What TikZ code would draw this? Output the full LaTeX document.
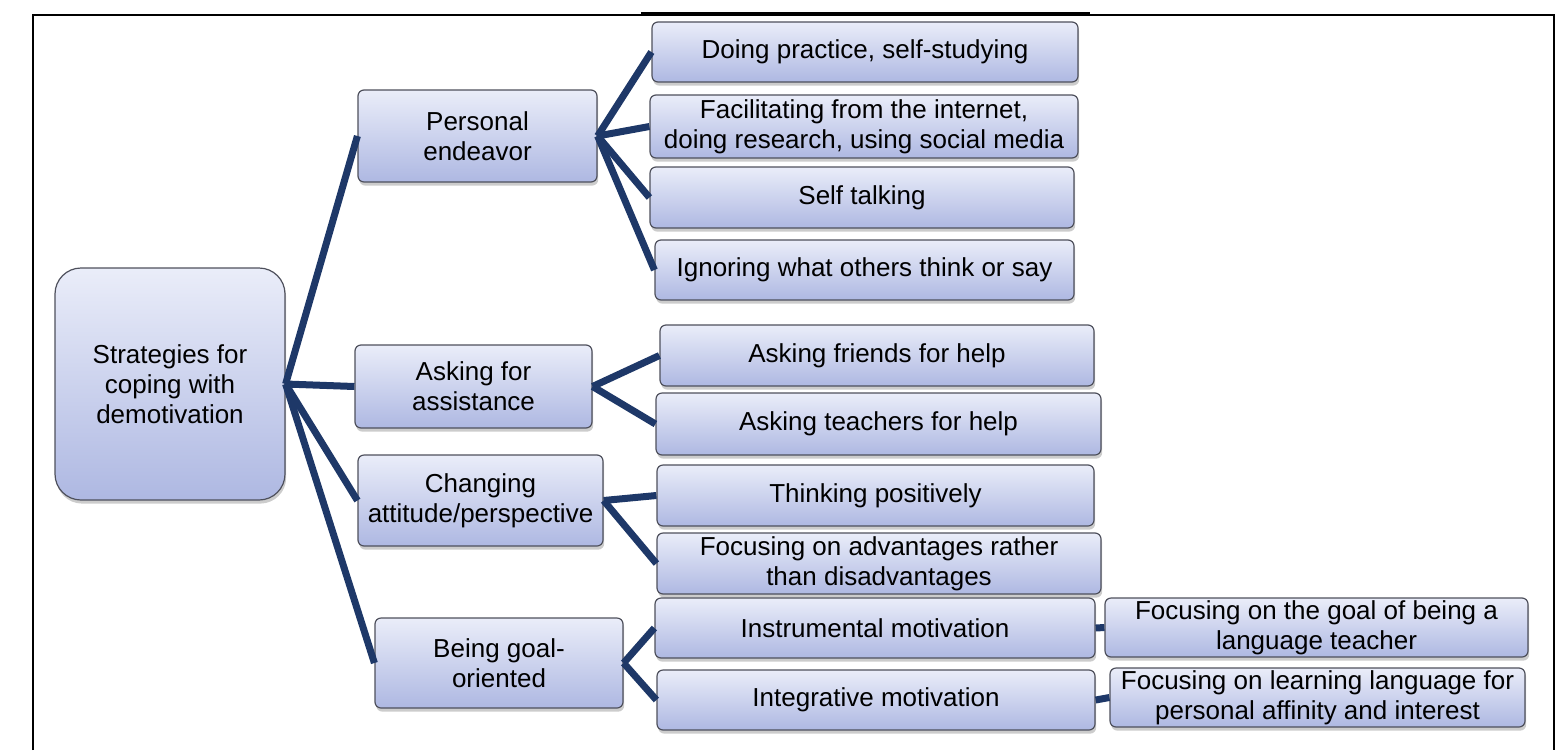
\documentclass[tikz,border=0pt]{standalone}
\usepackage{fontspec}
\setmainfont{Liberation Sans}
\usetikzlibrary{shadows}

\definecolor{linkblue}{RGB}{30,56,104}
\definecolor{boxtop}{RGB}{234,237,249}
\definecolor{boxbot}{RGB}{174,184,226}
\definecolor{boxedge}{RGB}{78,80,92}

\begin{document}
\begin{tikzpicture}[x=0.5pt, y=-0.5pt,
  box/.style={draw=boxedge, line width=0.6pt, rounded corners=3pt,
    top color=boxtop, bottom color=boxbot, align=center, inner sep=1pt,
    font=\fontsize{13}{15}\selectfont,
    drop shadow={shadow xshift=0.6pt, shadow yshift=-1.8pt, opacity=0.4}},
  link/.style={draw=linkblue, line width=3.5pt}]

\useasboundingbox (0,0) rectangle (1566,750);
\draw[line width=0.8pt] (33,750) -- (33,15) -- (1554,15) -- (1554,750);
\draw[line width=1.6pt] (641,14) -- (1090,14);

% -------- root and first level -----------
\node[box, rounded corners=13pt, minimum width=115pt, minimum height=116pt] (root) at (170,384) {Strategies for\\coping with\\demotivation};
\node[box, minimum width=119.5pt, minimum height=46pt]   (pers) at (477.5,136)  {Personal\\endeavor};
\node[box, minimum width=118.5pt, minimum height=41.5pt] (ask)  at (473.5,386.5) {Asking for\\assistance};
\node[box, minimum width=122.5pt, minimum height=45.5pt] (chg)  at (480.5,500.5) {Changing\\attitude/perspective};
\node[box, minimum width=124pt, minimum height=45pt]     (goal) at (499,663)    {Being goal-\\oriented};

% -------- second level -----------
\node[box, minimum width=213pt, minimum height=30pt]   (pers1) at (865,52)     {Doing practice, self-studying};
\node[box, minimum width=214pt, minimum height=31.5pt] (pers2) at (864,126.5)  {Facilitating from the internet,\\doing research, using social media};
\node[box, minimum width=212pt, minimum height=30.5pt] (pers3) at (862,197.5)  {Self talking};
\node[box, minimum width=209.5pt, minimum height=30pt] (pers4) at (864.5,270)  {Ignoring what others think or say};

\node[box, minimum width=217pt, minimum height=30.5pt] (ask1) at (877,355.5) {Asking friends for help};
\node[box, minimum width=222.5pt, minimum height=31pt] (ask2) at (878.5,424) {Asking teachers for help};

\node[box, minimum width=218.5pt, minimum height=30.5pt] (chg1) at (875.5,495.5) {Thinking positively};
\node[box, minimum width=222pt, minimum height=30.5pt]   (chg2) at (879,563.5)   {Focusing on advantages rather\\than disadvantages};

\node[box, minimum width=220pt, minimum height=30pt] (goal1) at (875,628) {Instrumental motivation};
\node[box, minimum width=219pt, minimum height=30pt] (goal2) at (876,700) {Integrative motivation};

% -------- third level -----------
\node[box, minimum width=211.5pt, minimum height=29.5pt] (inst) at (1316.5,627.5) {Focusing on the goal of being a\\language teacher};
\node[box, minimum width=207.5pt, minimum height=29.5pt] (intg) at (1317.5,697.5) {Focusing on learning language for\\personal affinity and interest};

% -------- connectors -----------
\foreach \c in {pers, ask, chg, goal}
  \draw[link] (root.east) -- (\c.west);
\foreach \c in {pers1, pers2, pers3, pers4}
  \draw[link] (pers.east) -- (\c.west);
\foreach \c in {ask1, ask2}
  \draw[link] (ask.east) -- (\c.west);
\foreach \c in {chg1, chg2}
  \draw[link] (chg.east) -- (\c.west);
\foreach \c in {goal1, goal2}
  \draw[link] (goal.east) -- (\c.west);
\draw[link] (goal1.east) -- (inst.west);
\draw[link] (goal2.east) -- (intg.west);

\end{tikzpicture}
\end{document}
